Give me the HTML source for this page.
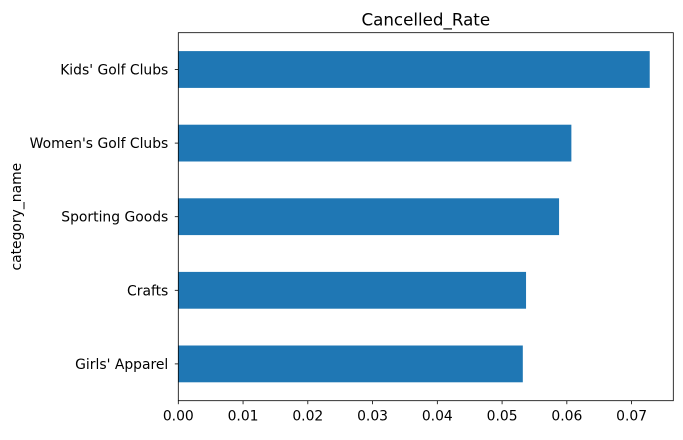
<!DOCTYPE html>
<html><head><meta charset="utf-8"><style>
body{margin:0;background:#fff;}
svg text{font-family:"DejaVu Sans","Liberation Sans",sans-serif;fill:#000;}
</style></head><body>
<svg id="chart" width="683" height="435"></svg>
<script>
const categories = ["Girls' Apparel","Crafts","Sporting Goods","Women's Golf Clubs","Kids' Golf Clubs"];
const values = [0.0532,0.0537,0.0588,0.0607,0.0728];
const ticks = [0,0.01,0.02,0.03,0.04,0.05,0.06,0.07];
const tickLabels = ["0.00","0.01","0.02","0.03","0.04","0.05","0.06","0.07"];
const NS="http://www.w3.org/2000/svg";
const svg=document.getElementById('chart');
const L=178.3,R=673.3,T=32.7,B=400.7;
const xmax=Math.max(...values)*1.05;
const x=v=>L+(v/xmax)*(R-L);
const n=categories.length;
const y=i=>B-(i+0.5)*(B-T)/n;
const bh=0.5*(B-T)/n;
function mk(tag,attrs){const e=document.createElementNS(NS,tag);for(const k in attrs)e.setAttribute(k,attrs[k]);svg.appendChild(e);return e;}
values.forEach((v,i)=>{
  const r=mk('rect',{x:L,y:y(i)-bh/2,width:x(v)-L,height:bh,fill:'#1f77b4'});
  
  
  mk('line',{x1:L-3.5,x2:L,y1:y(i),y2:y(i),stroke:'#000','stroke-width':0.8});
  const t=mk('text',{x:L-10,y:y(i)+5,'text-anchor':'end','font-size':13.9});
  t.textContent=categories[i];
  
  
});
ticks.forEach((v,i)=>{
  mk('line',{x1:x(v),x2:x(v),y1:B,y2:B+3.5,stroke:'#000','stroke-width':0.8});
  const t=mk('text',{x:x(v),y:B+20,'text-anchor':'middle','font-size':13.9});
  t.textContent=tickLabels[i];
  
  
});
const fr=mk('rect',{x:L,y:T,width:R-L,height:B-T,fill:'none',stroke:'#000','stroke-width':0.8});


const ti=mk('text',{x:(L+R)/2,y:T-7,'text-anchor':'middle','font-size':16.7});
ti.textContent='Cancelled_Rate';


const yl=mk('text',{x:0,y:0,'text-anchor':'middle','font-size':13.9,transform:'translate(21,'+((T+B)/2)+') rotate(-90)'});
yl.textContent='category_name';


</script>
</body></html>
